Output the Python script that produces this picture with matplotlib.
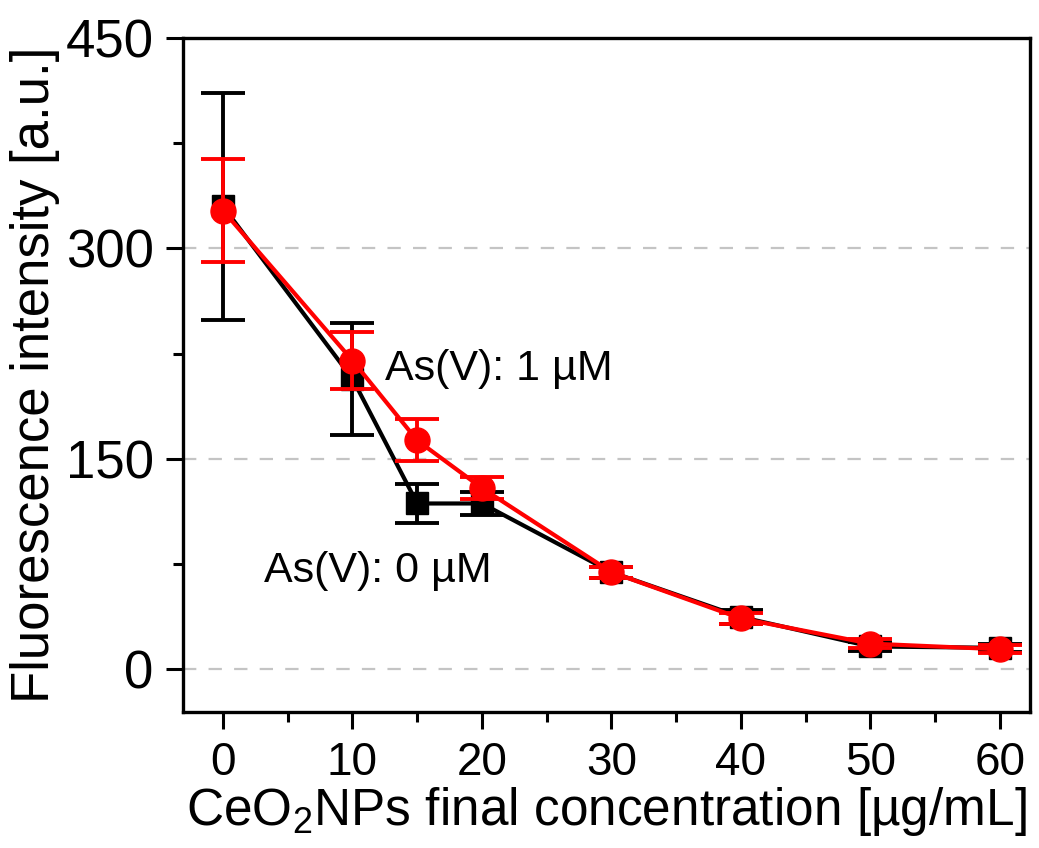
import numpy as np
import matplotlib
matplotlib.use("Agg")
import matplotlib.pyplot as plt
from matplotlib.ticker import MultipleLocator

# data
conc = [0, 10, 15, 20, 30, 40, 50, 60]
as0_mean = [330, 207, 118, 118, 69, 37, 16, 15]
as0_err = [81, 40, 14, 8, 4, 5, 3, 3]
as1_mean = [327, 220, 163, 129, 69, 36, 18, 14]
as1_err = [37, 20, 15, 8, 4, 4, 3, 3]

plt.rcParams['font.family'] = ['Liberation Sans', 'DejaVu Sans']
plt.rcParams['mathtext.fontset'] = 'custom'
plt.rcParams['mathtext.rm'] = 'Liberation Sans'

fig = plt.figure(figsize=(10.39, 8.48), dpi=100)
ax = fig.add_axes([0.176, 0.160, 0.815, 0.795])

ax.errorbar(conc, as0_mean, yerr=as0_err, color='black', lw=3, marker='s',
            ms=16, capsize=16, capthick=2.8, elinewidth=2.8, zorder=3)
ax.errorbar(conc, as1_mean, yerr=as1_err, color='#ff0000', lw=3, marker='o',
            ms=18, capsize=16, capthick=2.8, elinewidth=2.8, zorder=4)

ax.text(12.5, 214, 'As(V): 1 µM', fontsize=31, va='center', ha='left')
ax.text(3.2, 70, 'As(V): 0 µM', fontsize=31, va='center', ha='left')

ax.set_xlim(-3.1, 62.3)
ax.set_ylim(-31, 450)
ax.xaxis.set_major_locator(MultipleLocator(10))
ax.xaxis.set_minor_locator(MultipleLocator(5))
ax.yaxis.set_major_locator(MultipleLocator(150))
ax.yaxis.set_minor_locator(MultipleLocator(75))

ax.set_axisbelow(True)
ax.yaxis.grid(True, which='major', color='#c4c4c4', lw=1.6, ls=(0, (6, 5.5)))

for s in ax.spines.values():
    s.set_linewidth(2.4)
ax.tick_params(which='major', direction='out', length=12, width=2.2, pad=9,
               top=False, right=False)
ax.tick_params(which='minor', direction='out', length=7, width=2.2,
               top=False, right=False)
ax.tick_params(axis='x', labelsize=33)
ax.tick_params(axis='y', labelsize=38)

ax.set_xlabel(r'CeO$_\mathregular{2}$NPs final concentration [µg/mL]', fontsize=37, labelpad=0)
ax.set_ylabel('Fluorescence intensity [a.u.]', fontsize=38, labelpad=4)

fig.savefig('out.png', dpi=100)
